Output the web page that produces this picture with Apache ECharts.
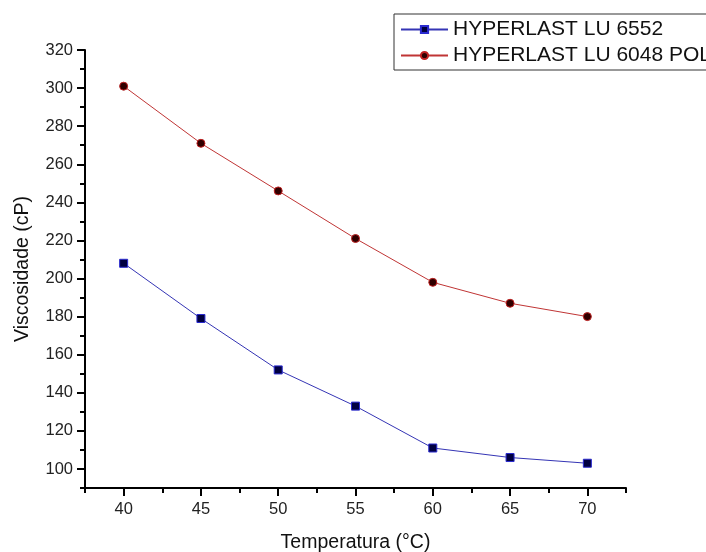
<!DOCTYPE html>
<html>
<head>
<meta charset="utf-8">
<script src="https://cdn.jsdelivr.net/npm/echarts@6/dist/echarts.min.js"></script>
<style>html,body{margin:0;padding:0;background:#fff;}#c{width:706px;height:552px;}</style>
</head>
<body>
<div id="c"></div>
<script>
var temps = [40, 45, 50, 55, 60, 65, 70];
var lu6552 = [208, 179, 152, 133, 111, 106, 103];
var lu6048 = [301, 271, 246, 221, 198, 187, 180];
var seriesNames = ['HYPERLAST LU 6552', 'HYPERLAST LU 6048 POL'];
var xMajor = [40, 45, 50, 55, 60, 65, 70];
var xMinor = [37.5, 42.5, 47.5, 52.5, 57.5, 62.5, 67.5, 72.5];
var yMajor = [100, 120, 140, 160, 180, 200, 220, 240, 260, 280, 300, 320];
var yMinor = [90, 110, 130, 150, 170, 190, 210, 230, 250, 270, 290, 310];

var FONT = 'Liberation Sans, Arial, sans-serif';
var chart = echarts.init(document.getElementById('c'), null, {renderer: 'canvas'});

function pairs(xs, ys) { return xs.map(function (x, i) { return [x, ys[i]]; }); }

var axisCommon = {
  type: 'value',
  splitLine: {show: false},
  axisLine: {show: true, onZero: false, lineStyle: {color: '#000', width: 2}}
};

chart.setOption({
  animation: false,
  backgroundColor: '#fff',
  grid: {left: 85, top: 50, width: 541, height: 438, containLabel: false, outerBoundsMode: 'none'},
  legend: {
    orient: 'vertical',
    left: 394, top: 14,
    padding: [5, 120, 4, 6],
    itemGap: 5,
    itemWidth: 47,
    itemHeight: 9,
    borderColor: '#333',
    borderWidth: 1,
    textStyle: {fontFamily: FONT, fontSize: 21, color: '#111'},
    data: seriesNames
  },
  xAxis: [
    Object.assign({}, axisCommon, {
      min: 37.5, max: 72.5, position: 'bottom',
      name: 'Temperatura (°C)', nameLocation: 'middle', nameGap: 45,
      nameTextStyle: {fontFamily: FONT, fontSize: 19.5, color: '#111'},
      axisTick: {show: true, customValues: xMajor, length: 8, inside: false, lineStyle: {color: '#000', width: 2}},
      axisLabel: {show: true, customValues: xMajor, margin: 13, fontFamily: FONT, fontSize: 16.5, color: '#222'}
    }),
    Object.assign({}, axisCommon, {
      min: 37.5, max: 72.5, position: 'bottom',
      axisLine: {show: false, onZero: false},
      axisTick: {show: true, customValues: xMinor, length: 5, inside: false, lineStyle: {color: '#000', width: 2}},
      axisLabel: {show: false}
    })
  ],
  yAxis: [
    Object.assign({}, axisCommon, {
      min: 90, max: 320, position: 'left',
      name: 'Viscosidade (cP)', nameLocation: 'middle', nameGap: 52, nameRotate: 90,
      nameTextStyle: {fontFamily: FONT, fontSize: 19.5, color: '#111'},
      axisTick: {show: true, customValues: yMajor, length: 8, inside: false, lineStyle: {color: '#000', width: 2}},
      axisLabel: {show: true, customValues: yMajor, margin: 12, fontFamily: FONT, fontSize: 16.5, color: '#222'}
    }),
    Object.assign({}, axisCommon, {
      min: 90, max: 320, position: 'left',
      axisLine: {show: false, onZero: false},
      axisTick: {show: true, customValues: yMinor, length: 5, inside: false, lineStyle: {color: '#000', width: 2}},
      axisLabel: {show: false}
    })
  ],
  series: [
    {
      name: seriesNames[0], type: 'line', xAxisIndex: 0, yAxisIndex: 0,
      data: pairs(temps, lu6552),
      symbol: 'rect', symbolSize: 8,
      lineStyle: {color: '#3535b5', width: 1},
      itemStyle: {color: '#000040', borderColor: '#2a2ad0', borderWidth: 1}
    },
    {
      name: seriesNames[1], type: 'line', xAxisIndex: 0, yAxisIndex: 0,
      data: pairs(temps, lu6048),
      symbol: 'circle', symbolSize: 8,
      lineStyle: {color: '#c03535', width: 1},
      itemStyle: {color: '#300000', borderColor: '#c02020', borderWidth: 1}
    }
  ]
});
</script>
</body>
</html>
